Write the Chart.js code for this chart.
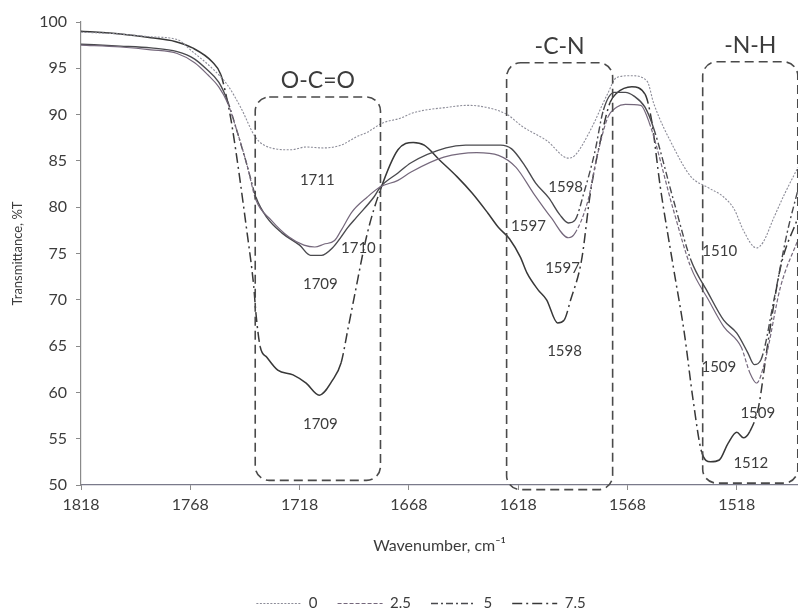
<!DOCTYPE html>
<html>
<head>
<meta charset="utf-8">
<title>FTIR transmittance</title>
<script src="https://cdn.jsdelivr.net/npm/chart.js@4.4.0/dist/chart.umd.min.js"></script>
<style>
  html, body { margin: 0; padding: 0; background: #fff; }
</style>
</head>
<body>
<canvas id="ftir" width="798" height="612"></canvas>
<script>
// values, wavenumber (cm-1) -> transmittance (%T)
const seriesNames = ['0', '2.5', '5', '7.5'];

const wn0 = [1818, 1800, 1786, 1774, 1767, 1758, 1751, 1745, 1738, 1731, 1722, 1715, 1707, 1699, 1692, 1687, 1680, 1672, 1666, 1650, 1641, 1631, 1623, 1616, 1605, 1595, 1592, 1585, 1577, 1573, 1566, 1559, 1556, 1547, 1539, 1531, 1524, 1519, 1515, 1509, 1506, 1501, 1496, 1490];
const t0 = [98.9, 98.7, 98.4, 98.1, 96.8, 95.0, 93.2, 90.8, 87.5, 86.4, 86.2, 86.5, 86.4, 86.7, 87.6, 88.1, 89.1, 89.6, 90.2, 90.8, 91.0, 90.7, 90.0, 88.7, 87.2, 85.3, 85.6, 88.3, 92.3, 94.0, 94.2, 93.6, 91.2, 86.5, 83.3, 82.1, 81.1, 79.7, 77.5, 75.6, 76.2, 78.9, 81.5, 84.3];

const wn25 = [1818, 1800, 1786, 1774, 1766, 1760, 1755, 1751, 1747, 1742, 1738, 1731, 1723, 1716, 1711, 1707, 1702, 1699, 1694, 1687, 1681, 1673, 1667, 1652, 1637, 1627, 1619, 1611, 1603, 1595, 1592, 1586, 1582, 1577, 1573, 1569, 1562, 1558, 1547, 1539, 1531, 1524, 1516, 1512, 1509, 1505, 1498, 1490];
const t25 = [97.5, 97.3, 97.0, 96.6, 95.6, 94.3, 93.0, 91.3, 88.5, 84.5, 80.8, 78.6, 76.8, 75.9, 75.7, 76.0, 76.4, 77.5, 79.5, 81.1, 82.2, 82.9, 83.8, 85.4, 85.9, 85.6, 84.3, 81.5, 78.9, 76.7, 77.2, 80.8, 85.4, 89.7, 90.8, 91.1, 91.0, 89.1, 79.7, 73.5, 70.0, 67.1, 64.9, 62.1, 61.0, 63.5, 71.4, 76.5];

const wn5 = [1818, 1800, 1786, 1774, 1766, 1761, 1755, 1751, 1747, 1742, 1738, 1733, 1726, 1718, 1713, 1708, 1703, 1699, 1696, 1692, 1684, 1681, 1673, 1667, 1651, 1642, 1626, 1621, 1615, 1610, 1604, 1599, 1595, 1592, 1588, 1583, 1579, 1574, 1569, 1565, 1560, 1556, 1547, 1539, 1531, 1524, 1518, 1513, 1510, 1507, 1501, 1495, 1490];
const t5 = [97.6, 97.4, 97.2, 96.8, 96.0, 95.0, 93.5, 91.5, 88.5, 84.5, 81.1, 78.9, 77.2, 75.9, 74.8, 74.8, 75.6, 76.8, 77.8, 78.9, 81.1, 82.2, 83.7, 84.8, 86.4, 86.7, 86.7, 86.3, 84.5, 82.6, 81.0, 79.2, 78.3, 78.6, 81.5, 85.9, 90.5, 92.4, 92.4, 92.0, 90.8, 88.5, 80.8, 74.3, 70.7, 67.8, 66.4, 64.3, 63.0, 63.5, 70.0, 77.2, 81.9];

const wn75 = [1818, 1800, 1786, 1775, 1767, 1758, 1754, 1751, 1749, 1742, 1739, 1738, 1736, 1733, 1728, 1721, 1715, 1709, 1703, 1699, 1696, 1693, 1687, 1681, 1673, 1666, 1661, 1654, 1646, 1639, 1632, 1627, 1622, 1617, 1614, 1609, 1605, 1600, 1597, 1594, 1589, 1585, 1580, 1576, 1573, 1566, 1560, 1557, 1553, 1547, 1542, 1538, 1534, 1530, 1526, 1522, 1518, 1515, 1512, 1508, 1504, 1498, 1490];
const t75 = [99.0, 98.7, 98.3, 97.9, 97.2, 95.7, 94.3, 91.4, 88.9, 77.2, 71.5, 68.6, 64.9, 63.8, 62.4, 61.9, 61.0, 59.7, 61.3, 63.2, 66.7, 70.3, 77.2, 81.9, 86.2, 87.0, 86.7, 85.1, 83.3, 81.5, 79.4, 77.8, 76.6, 74.6, 72.9, 71.1, 70.0, 67.5, 67.8, 70.0, 74.3, 81.5, 87.6, 91.3, 92.3, 93.0, 92.2, 89.4, 82.2, 73.5, 66.4, 59.2, 53.5, 52.5, 52.7, 54.5, 55.7, 55.1, 55.8, 58.5, 65.0, 73.5, 78.9];

const xTicks = [1518, 1568, 1618, 1668, 1718, 1768, 1818];

// functional group bands (wavenumber span, %T span)
const groupNames = ['O-C=O', '-C-N', '-N-H'];
const groupFrom = [1738.3, 1623.3, 1533.6];
const groupTo = [1681.0, 1574.8, 1490.1];
const groupTop = [91.9, 95.6, 95.7];
const groupBottom = [50.5, 49.5, 50.2];

// peak labels
const peakText = ['1711', '1710', '1709', '1709', '1598', '1597', '1597', '1598', '1510', '1509', '1509', '1512'];
const peakWn = [1709.9, 1691.1, 1708.5, 1708.5, 1596.3, 1613.3, 1597.7, 1596.8, 1525.8, 1526.2, 1508.4, 1511.6];
const peakT = [82.9, 75.6, 71.7, 56.6, 82.2, 77.9, 73.4, 64.5, 75.3, 62.7, 57.8, 52.4];

const textColor = '#3c3c3c';
const fontFamily = 'Lato, "Open Sans", sans-serif';

const toPoints = (xs, ys) => xs.map((v, i) => ({ x: v, y: ys[i] }));

// dash only shows on the steep stretches, like the original plot
const steepDash = (pattern) => (ctx) => {
  const dx = Math.abs(ctx.p1.x - ctx.p0.x) || 0.01;
  const dy = Math.abs(ctx.p1.y - ctx.p0.y);
  return dy / dx > 2.5 ? pattern : [];
};

const bandPlugin = {
  id: 'bands',
  afterDatasetsDraw(chart) {
    const { ctx, scales: { x, y } } = chart;
    ctx.save();
    ctx.strokeStyle = '#4a4a4a';
    ctx.lineWidth = 1.6;
    ctx.setLineDash([9, 5]);
    groupNames.forEach((name, i) => {
      const left = x.getPixelForValue(groupFrom[i]);
      const right = x.getPixelForValue(groupTo[i]);
      const top = y.getPixelForValue(groupTop[i]);
      const bottom = y.getPixelForValue(groupBottom[i]);
      ctx.beginPath();
      ctx.roundRect(left, top, right - left, bottom - top, 14);
      ctx.stroke();
    });
    ctx.setLineDash([]);
    ctx.fillStyle = textColor;
    ctx.textAlign = 'center';
    ctx.textBaseline = 'middle';
    ctx.font = '23px ' + fontFamily;
    groupNames.forEach((name, i) => {
      const cx = (x.getPixelForValue(groupFrom[i]) + x.getPixelForValue(groupTo[i])) / 2;
      ctx.fillText(name, cx, y.getPixelForValue(groupTop[i]) - 16);
    });
    ctx.font = '15px ' + fontFamily;
    peakText.forEach((t, i) => {
      ctx.fillText(t, x.getPixelForValue(peakWn[i]), y.getPixelForValue(peakT[i]));
    });
    ctx.restore();
  }
};

// nudge the legend row to where it sits in the original figure
const legendNudge = {
  id: 'legendNudge',
  afterLayout(chart) {
    const lg = chart.legend;
    lg.left += 22; lg.right += 22;
    lg.top += 9; lg.bottom += 9;
  }
};

new Chart(document.getElementById('ftir'), {
  type: 'line',
  data: {
    datasets: [
      {
        label: seriesNames[0],
        data: toPoints(wn0, t0),
        borderColor: '#8c8c98',
        borderWidth: 1.1,
        borderDash: [2, 1.5]
      },
      {
        label: seriesNames[1],
        data: toPoints(wn25, t25),
        borderColor: '#75687c',
        borderWidth: 1.2,
        borderDash: [4, 2],
        segment: { borderDash: steepDash([4, 2]) }
      },
      {
        label: seriesNames[2],
        data: toPoints(wn5, t5),
        borderColor: '#4a4a4e',
        borderWidth: 1.4,
        borderDash: [7, 3, 2, 3],
        segment: { borderDash: steepDash([7, 3, 2, 3]) }
      },
      {
        label: seriesNames[3],
        data: toPoints(wn75, t75),
        borderColor: '#383838',
        borderWidth: 1.5,
        borderDash: [10, 4, 2, 4],
        segment: { borderDash: steepDash([10, 4, 2, 4]) }
      }
    ]
  },
  options: {
    responsive: false,
    animation: false,
    events: [],
    parsing: false,
    cubicInterpolationMode: 'monotone',
    elements: { point: { radius: 0, pointStyle: 'line' }, line: { fill: false } },
    layout: { padding: { top: 22, right: 0, bottom: 0, left: 0 } },
    plugins: {
      tooltip: { enabled: false },
      legend: {
        position: 'bottom',
        labels: {
          usePointStyle: true,
          pointStyleWidth: 45,
          boxWidth: 45,
          padding: 20,
          color: textColor,
          font: { family: fontFamily, size: 15 },
          generateLabels: (chart) => chart.data.datasets.map((ds, i) => ({
            text: ds.label,
            strokeStyle: ds.borderColor,
            fillStyle: ds.borderColor,
            lineWidth: ds.borderWidth,
            lineDash: ds.borderDash,
            pointStyle: 'line',
            fontColor: textColor,
            hidden: false,
            datasetIndex: i
          }))
        }
      }
    },
    scales: {
      x: {
        type: 'linear',
        reverse: true,
        min: 1490,
        max: 1818,
        bounds: 'data',
        afterBuildTicks: (scale) => { scale.ticks = xTicks.map(v => ({ value: v })); },
        afterFit: (scale) => { scale.height = 82; },
        grid: { drawOnChartArea: false, drawTicks: true, tickLength: 5, color: '#8a8a8a' },
        border: { color: '#7a7a8a', width: 1.2 },
        ticks: {
          padding: 5,
          color: textColor,
          font: { family: fontFamily, size: 16 },
          callback: (v) => String(v)
        },
        title: {
          display: true,
          text: 'Wavenumber, cm⁻¹',
          color: textColor,
          font: { family: fontFamily, size: 16 },
          padding: { top: 4, bottom: 12 }
        }
      },
      y: {
        min: 50,
        max: 100,
        afterFit: (scale) => { scale.width = 81; },
        grid: { drawOnChartArea: false, drawTicks: true, tickLength: 5, color: '#8a8a8a' },
        border: { color: '#8a8a8a', width: 1.2 },
        ticks: {
          stepSize: 5,
          padding: 9,
          color: textColor,
          font: { family: fontFamily, size: 16 }
        },
        title: {
          display: true,
          text: 'Transmittance, %T',
          color: textColor,
          font: { family: fontFamily, size: 13 },
          padding: { top: 10, bottom: 0 }
        }
      }
    }
  },
  plugins: [bandPlugin, legendNudge]
});
</script>
</body>
</html>
